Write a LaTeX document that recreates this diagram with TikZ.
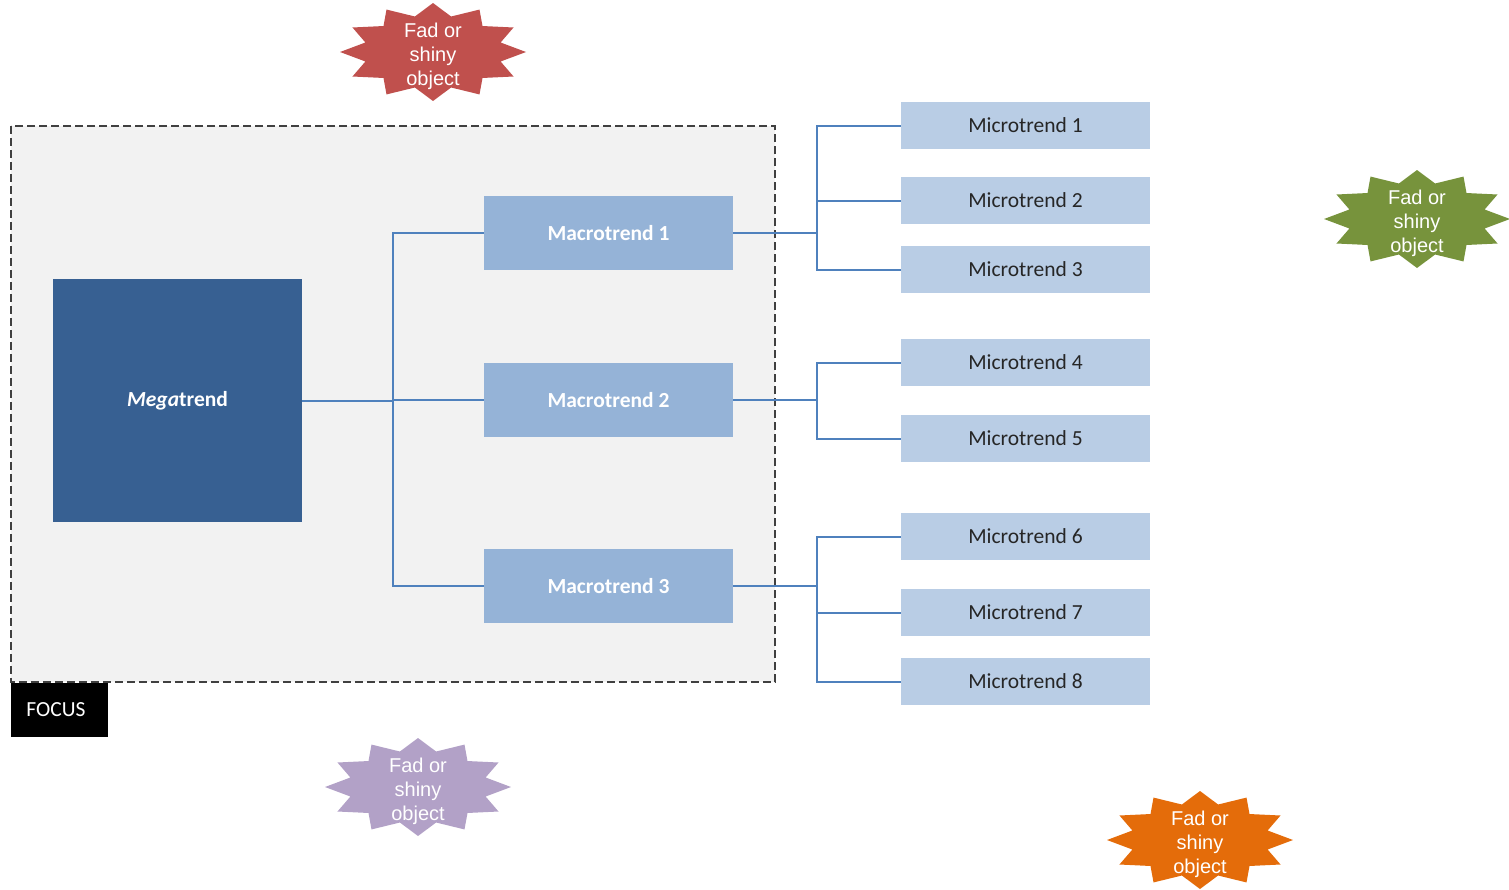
\documentclass[tikz,border=0pt]{standalone}
\usepackage{fontspec}
\setmainfont{Carlito}
\newfontfamily\arialfont{Liberation Sans}
\usetikzlibrary{calc}

\definecolor{focusgray}{HTML}{F2F2F2}
\definecolor{megablue}{HTML}{376092}
\definecolor{macroblue}{HTML}{95B3D7}
\definecolor{microblue}{HTML}{B9CDE5}
\definecolor{linkblue}{HTML}{4F81BD}
\definecolor{fadred}{HTML}{C0504D}
\definecolor{fadgreen}{HTML}{77933C}
\definecolor{fadpurple}{HTML}{B2A1C7}
\definecolor{fadorange}{HTML}{E46C0A}

\tikzset{
  box/.style={rectangle, inner sep=0pt, outer sep=0pt, draw=none},
  megabox/.style={box, fill=megablue, minimum width=249pt, minimum height=243pt,
    text=white, font=\fontsize{21.5}{24}\selectfont\bfseries},
  macrobox/.style={box, fill=macroblue, minimum width=249pt, minimum height=74pt,
    text=white, font=\fontsize{21.5}{24}\selectfont\bfseries},
  microbox/.style={box, fill=microblue, minimum width=249pt, minimum height=47pt,
    text=black!85, font=\fontsize{21.5}{24}\selectfont},
  link/.style={draw=linkblue, line width=2pt},
  startext/.style={text=white, align=center, inner sep=0pt,
    font=\arialfont\fontsize{20}{24}\selectfont},
}

% twelve-pointed burst, stretched to an ellipse, with its label on top
\newcommand\fadstar[4]{%
  \fill[#4] plot[samples=25, domain=0:24, variable=\k]
    ({#1 + ifthenelse(mod(round(\k),2)==0,93,70)*cos(90+15*\k)},
     {#2 + ifthenelse(mod(round(\k),2)==0,49,36.75)*sin(90+15*\k)}) -- cycle;
  \node[startext] (#3) at (#1,#2+4) {Fad or\\shiny\\object};
}

\begin{document}
\begin{tikzpicture}[x=1pt, y=-1pt]
  \useasboundingbox (0,0) rectangle (1509,889);

  % focus area
  \draw[fill=focusgray, draw=black!75, line width=1.3pt, dash pattern=on 8pt off 4pt]
    (11,126) rectangle (775,682);
  \node[box, fill=black, minimum width=97pt, minimum height=54pt, text=white,
        font=\fontsize{21.5}{24}\selectfont] (focus) at (59.5,710) {\hspace*{-7pt}FOCUS};

  % trend boxes
  \node[megabox] (mega) at (177.5,400.5) {\itshape Mega\upshape trend};

  \node[macrobox] (mt1) at (608.5,233) {Macrotrend 1};
  \node[macrobox] (mt2) at (608.5,400) {Macrotrend 2};
  \node[macrobox] (mt3) at (608.5,586) {Macrotrend 3};

  \node[microbox] (m1) at (1025.5,125.5) {Microtrend 1};
  \node[microbox] (m2) at (1025.5,200.5) {Microtrend 2};
  \node[microbox] (m3) at (1025.5,269.5) {Microtrend 3};
  \node[microbox] (m4) at (1025.5,362.5) {Microtrend 4};
  \node[microbox] (m5) at (1025.5,438.5) {Microtrend 5};
  \node[microbox] (m6) at (1025.5,536.5) {Microtrend 6};
  \node[microbox] (m7) at (1025.5,612.5) {Microtrend 7};
  \node[microbox] (m8) at (1025.5,681.5) {Microtrend 8};

  % elbow connectors
  \coordinate (megabus) at ($(mega.east)+(91,0)$);
  \foreach \t in {mt1,mt2,mt3}
    \draw[link] (mega.east) -- (megabus) |- (\t.west);

  \coordinate (bus1) at ($(mt1.east)+(84,0)$);
  \coordinate (bus2) at ($(mt2.east)+(84,0)$);
  \coordinate (bus3) at ($(mt3.east)+(84,0)$);
  \foreach \t in {m1,m2,m3}
    \draw[link] (mt1.east) -- (bus1) |- (\t.west);
  \foreach \t in {m4,m5}
    \draw[link] (mt2.east) -- (bus2) |- (\t.west);
  \foreach \t in {m6,m7,m8}
    \draw[link] (mt3.east) -- (bus3) |- (\t.west);

  % distractions
  \fadstar{433}{52}{fad1}{fadred}
  \fadstar{1417}{219}{fad2}{fadgreen}
  \fadstar{418}{787}{fad3}{fadpurple}
  \fadstar{1200}{840}{fad4}{fadorange}
\end{tikzpicture}
\end{document}
